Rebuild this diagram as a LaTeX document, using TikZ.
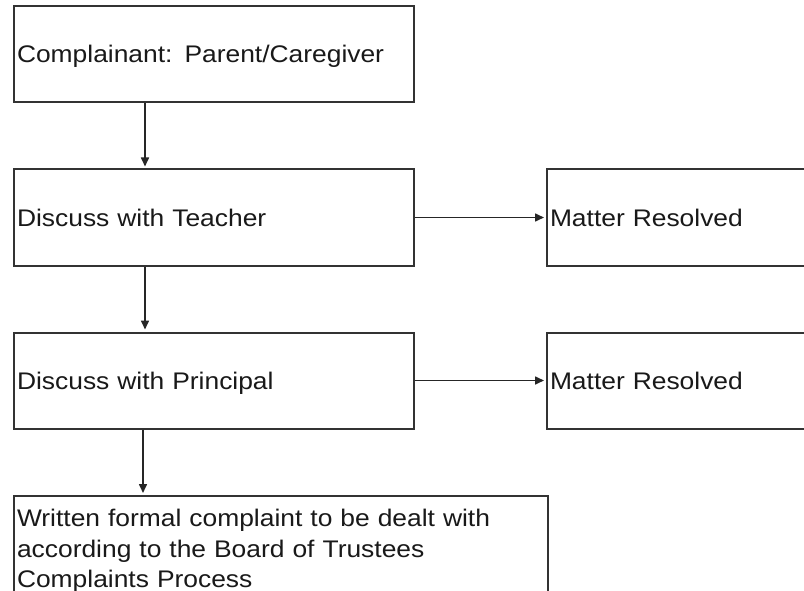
\documentclass[tikz,border=0pt]{standalone}
\usepackage{fontspec}
\setmainfont{Liberation Sans}[FakeStretch=1.10]
\usetikzlibrary{arrows.meta}
\begin{document}
\begin{tikzpicture}[x=1pt,y=-1pt,
  box/.style={draw=black!80, line width=2pt, rectangle, anchor=west,
    align=left, inner xsep=3pt, inner ysep=0pt, minimum height=96pt,
    text height=17pt, text depth=0pt, text=black!90,
    font=\fontsize{24}{30}\selectfont},
  arr/.style={draw=black!85, line width=1.6pt,
    -{Triangle[length=9pt,width=8pt]}, shorten >=2pt}]
\useasboundingbox (0,0) rectangle (804,591);
\clip (0,0) rectangle (804,591);
\fill[white] (0,0) rectangle (804,591);
\node[box, text width=394pt] (n1) at (13,54.5) {Complainant: Parent/Caregiver};
\node[box, text width=394pt] (n2) at (13,217.5) {Discuss with Teacher};
\node[box, text width=394pt] (n3) at (13,380.5) {Discuss with Principal};
\node[box, text width=294pt] (r2) at (546,217.5) {Matter Resolved};
\node[box, text width=294pt] (r3) at (546,380.5) {Matter Resolved};
\node[draw=black!80, line width=2pt, rectangle, anchor=north west,
    align=left, inner xsep=3pt, inner ysep=1pt, text width=528pt,
    minimum height=110pt, text=black!90,
    font=\fontsize{24}{30.5}\selectfont] (n4) at (13,495)
  {Written formal complaint to be dealt with\\
   according to the Board of Trustees\\
   Complaints Process\\[26pt]};
\draw[arr] ([xshift=132pt]n1.south west) -- ([xshift=132pt]n2.north west);
\draw[arr] ([xshift=132pt]n2.south west) -- ([xshift=132pt]n3.north west);
\draw[arr] ([xshift=130pt]n3.south west) -- ([xshift=130pt]n4.north west);
\draw[arr] (n2.east) -- (r2.west);
\draw[arr] (n3.east) -- (r3.west);
\end{tikzpicture}
\end{document}
